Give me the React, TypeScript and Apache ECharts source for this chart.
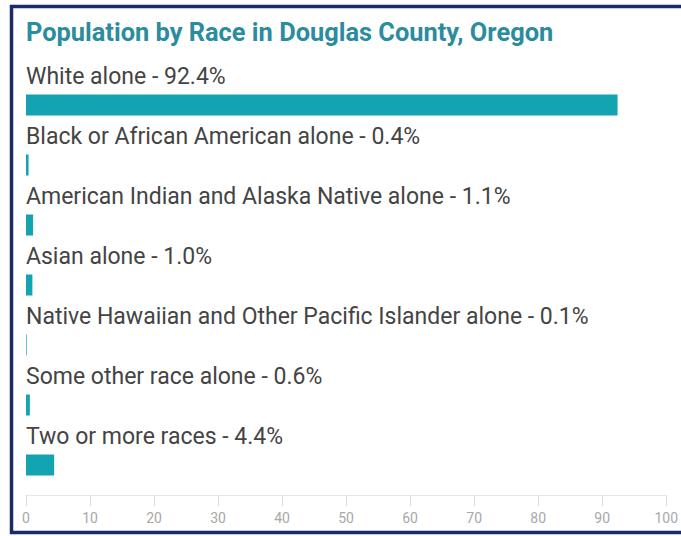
import React, { useEffect, useRef } from "react";
import * as echarts from "echarts";

const categories = [
  "White alone",
  "Black or African American alone",
  "American Indian and Alaska Native alone",
  "Asian alone",
  "Native Hawaiian and Other Pacific Islander alone",
  "Some other race alone",
  "Two or more races",
];
const values = [92.4, 0.4, 1.1, 1.0, 0.1, 0.6, 4.4];
const titleText = "Population by Race in Douglas County, Oregon";

export default function App() {
  const ref = useRef<HTMLDivElement>(null);
  useEffect(() => {
    if (!ref.current) return;
    const chart = echarts.init(ref.current, undefined, { renderer: "svg" });
    chart.setOption({
      animation: false,
      backgroundColor: "#ffffff",
      title: {
        text: titleText,
        left: 21,
        top: 14,
        textStyle: {
          fontFamily: "Roboto",
          fontWeight: "bold",
          fontSize: 25.4,
          color: "#2b8c9e",
        },
      },
      graphic: [
        {
          type: "rect",
          shape: { x: 11.5, y: 6.5, width: 720, height: 526 },
          style: { fill: "none", stroke: "#1b2a6b", lineWidth: 3.5 },
          silent: true,
        },
      ],
      grid: { left: 26, right: 13, top: 75, bottom: 41, containLabel: false },
      xAxis: {
        type: "value",
        min: 0,
        max: 100,
        interval: 10,
        axisLine: { show: true, lineStyle: { color: "#e8e8e8", width: 1 } },
        axisTick: { show: true, length: 11, lineStyle: { color: "#dcdcdc" } },
        splitLine: { show: false },
        axisLabel: {
          color: "#a8a8a8",
          fontFamily: "Roboto",
          fontSize: 14,
          margin: 16,
        },
      },
      yAxis: {
        type: "category",
        data: categories,
        inverse: true,
        axisLine: { show: false },
        axisTick: { show: false },
        axisLabel: { show: false },
      },
      series: [
        {
          type: "bar",
          data: values,
          barWidth: 21,
          itemStyle: { color: "#14a3b0" },
          label: {
            show: true,
            position: [0, -18.5],
            align: "left",
            verticalAlign: "middle",
            fontFamily: "Roboto",
            fontSize: 23,
            color: "#444444",
            formatter: (p: any) => `${p.name} - ${Number(p.value).toFixed(1)}%`,
          },
        },
      ],
    });
    return () => chart.dispose();
  }, []);
  return (
    <div
      ref={ref}
      style={{ position: "fixed", left: 0, top: 0, width: 681, height: 536 }}
    />
  );
}
